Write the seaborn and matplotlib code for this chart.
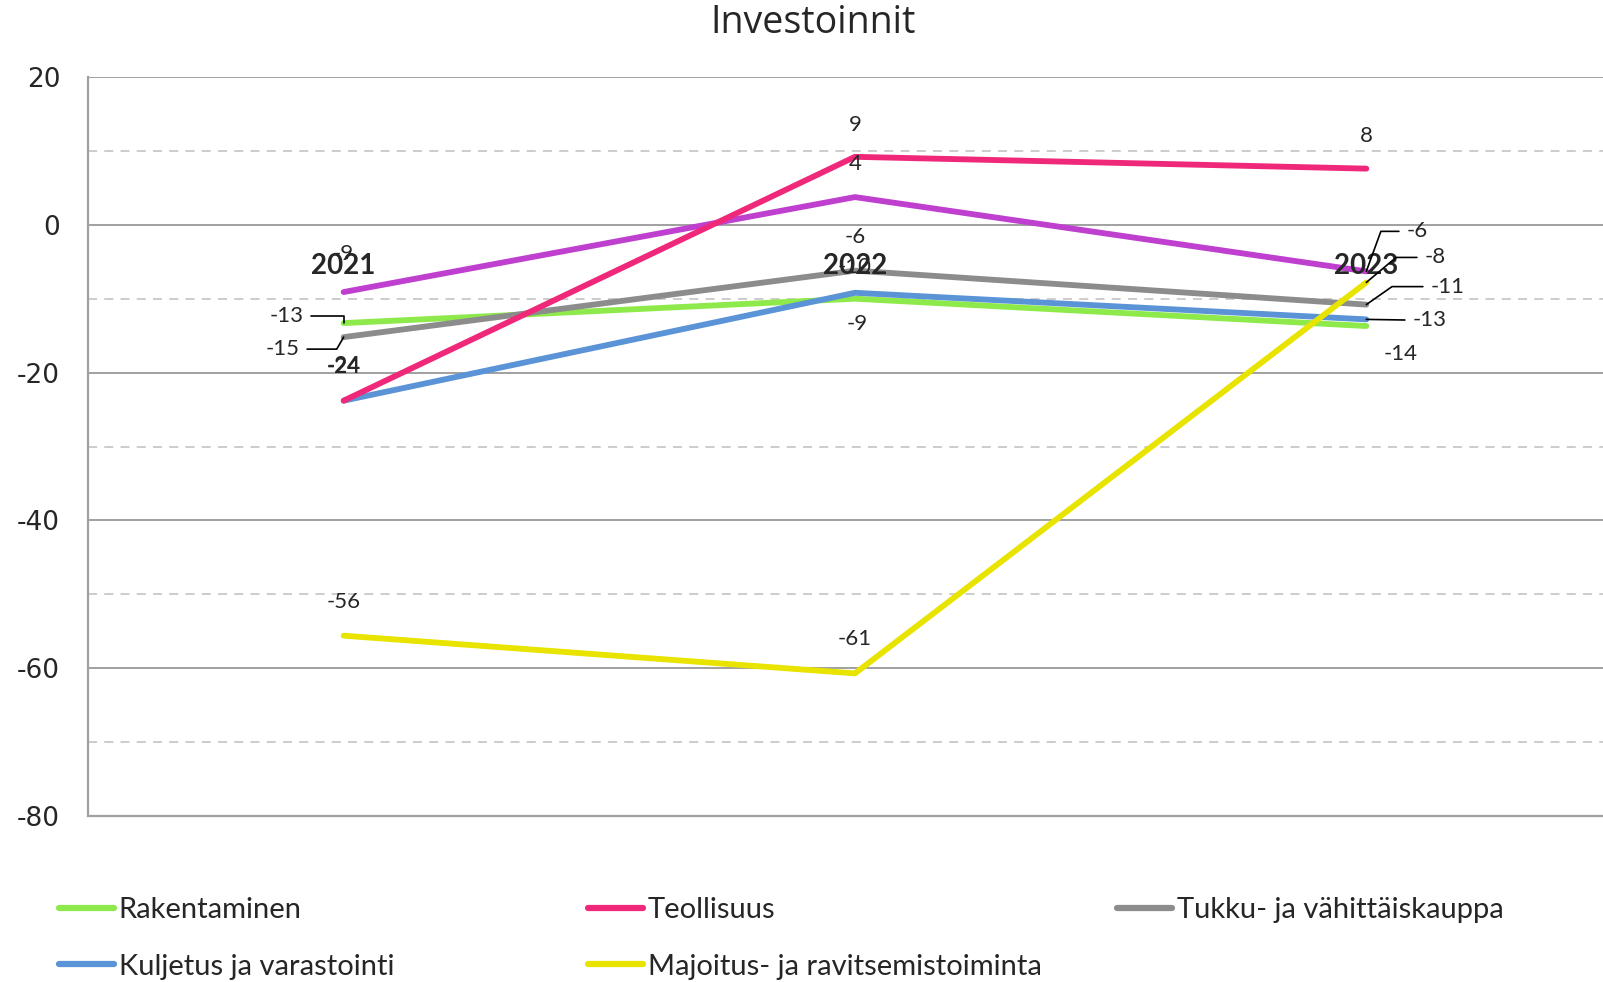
import pandas as pd
import matplotlib.pyplot as plt
import seaborn as sns
from matplotlib.lines import Line2D

# Data (labels show the rounded values)
years = ['2021', '2022', '2023']
rakentaminen = [-13.3, -10.0, -13.7]
teollisuus = [-23.8, 9.2, 7.6]
tukku = [-15.2, -6.2, -10.8]
kuljetus = [-23.8, -9.2, -12.8]
majoitus = [-55.6, -60.7, -7.8]
muu = [-9.1, 3.75, -6.3]  # purple line, not shown in the legend

names = ['Rakentaminen', 'Teollisuus', 'Tukku- ja vähittäiskauppa',
         'Kuljetus ja varastointi', 'Majoitus- ja ravitsemistoiminta', 'Muu']
values = [rakentaminen, teollisuus, tukku, kuljetus, majoitus, muu]
colors = ['#8eea4a', '#f0287a', '#8c8c8c', '#5a93d6', '#e8e400', '#bf3fcf']
palette = dict(zip(names, colors))

rows = []
for name, vals in zip(names, values):
    for y, v in zip(years, vals):
        rows.append({'Vuosi': y, 'Arvo': v, 'Sarja': name})
df = pd.DataFrame(rows)

sns.set_style('white')
plt.rcParams['font.family'] = ['Lato', 'DejaVu Sans']
plt.rcParams['axes.unicode_minus'] = False

fig = plt.figure(figsize=(16.03, 9.82), dpi=100)
ax = fig.add_axes([88 / 1603, 1 - 816 / 982, 1 - 88 / 1603, (816 - 77) / 982])

# draw order: put purple first so others sit on top where they cross
order = ['Muu', 'Rakentaminen', 'Tukku- ja vähittäiskauppa', 'Kuljetus ja varastointi',
         'Teollisuus', 'Majoitus- ja ravitsemistoiminta']
sns.lineplot(data=df, x='Vuosi', y='Arvo', hue='Sarja', hue_order=order,
             palette=palette, linewidth=4.2, legend=False, sort=False, ax=ax)
for ln in ax.lines:
    ln.set_solid_capstyle('round')
    ln.set_solid_joinstyle('round')

ax.set_ylim(-80, 20)
ax.set_xlim(-0.5, 2.5 - 19 / 512)
ax.set_yticks(range(-80, 21, 20))
ax.set_yticks(range(-70, 20, 20), minor=True)
ax.yaxis.grid(True, which='major', color='#a0a0a0', linewidth=1.4)
ax.yaxis.grid(True, which='minor', color='#c8c8c8', linewidth=1.3, linestyle=(0, (5, 4)))
ax.set_axisbelow(True)
ax.tick_params(axis='y', which='both', length=0, pad=20, labelsize=19)
for lab in ax.get_yticklabels():
    lab.set_fontfamily('DejaVu Sans')
ax.set_xticks([])
ax.set_xlabel('')
ax.set_ylabel('')
for s in ['top', 'right']:
    ax.spines[s].set_visible(False)
ax.spines['left'].set_color('#a0a0a0')
ax.spines['left'].set_linewidth(1.6)
ax.spines['bottom'].set_color('#a0a0a0')
ax.spines['bottom'].set_linewidth(1.6)

# bold category labels inside the plot
for i, y in enumerate(years):
    ax.text(i, -5.6, y, ha='center', va='center', fontsize=20, fontweight='bold', zorder=5)

# data labels with optional leader lines
lab_fs = 16
def label(vals, i, dx, dy, ha='center', bold=False, leader=None):
    kw = dict(textcoords='offset pixels', ha=ha, va='center', fontsize=lab_fs,
              fontweight='bold' if bold else 'normal', zorder=6)
    if leader is not None:
        kw['arrowprops'] = dict(arrowstyle='-', color='black', lw=1.2,
                                connectionstyle=leader, shrinkA=3, shrinkB=0)
    ax.annotate(f'{vals[i]:.0f}', xy=(i, vals[i]), xytext=(dx, dy), **kw)

label(muu, 0, 0, 38)
label(rakentaminen, 0, -40, 7, ha='right', leader='angle,angleA=0,angleB=90')
label(tukku, 0, -44, -12, ha='right', leader='angle,angleA=0,angleB=60')
label(kuljetus, 0, 0, 34)
label(teollisuus, 0, 0, 34, bold=True)
label(majoitus, 0, 0, 34)

label(teollisuus, 1, 0, 32)
label(muu, 1, 0, 33)
label(tukku, 1, 0, 34)
label(rakentaminen, 1, 0, 32)
label(kuljetus, 1, 2, -31)
label(majoitus, 1, 0, 34)

label(teollisuus, 2, 0, 33)
label(muu, 2, 40, 40, ha='left', leader='angle,angleA=0,angleB=70')
label(majoitus, 2, 58, 25, ha='left', leader='angle,angleA=0,angleB=40')
label(tukku, 2, 64, 18, ha='left', leader='angle,angleA=0,angleB=35')
label(kuljetus, 2, 46, -1, ha='left', leader='arc3')
label(rakentaminen, 2, 34, -28, ha='center')

fig.suptitle('Investoinnit', x=0.507, y=1 - 23 / 982, va='center', fontsize=27,
             fontfamily=['Open Sans', 'DejaVu Sans'])

# legend, three columns laid out row-wise
def handle(name):
    return Line2D([], [], color=palette[name], linewidth=4.5, solid_capstyle='round')

cols = [(['Rakentaminen', 'Kuljetus ja varastointi'], 59),
        (['Teollisuus', 'Majoitus- ja ravitsemistoiminta'], 588),
        (['Tukku- ja vähittäiskauppa'], 1117)]
for items, xpix in cols:
    fig.legend([handle(n) for n in items], items, loc='upper left',
               bbox_to_anchor=(xpix / 1603, 1 - 897 / 982), frameon=False,
               fontsize=21, handlelength=1.9, handletextpad=0.15,
               labelspacing=1.05, borderpad=0, borderaxespad=0)

fig.savefig('out.png', dpi=100)
